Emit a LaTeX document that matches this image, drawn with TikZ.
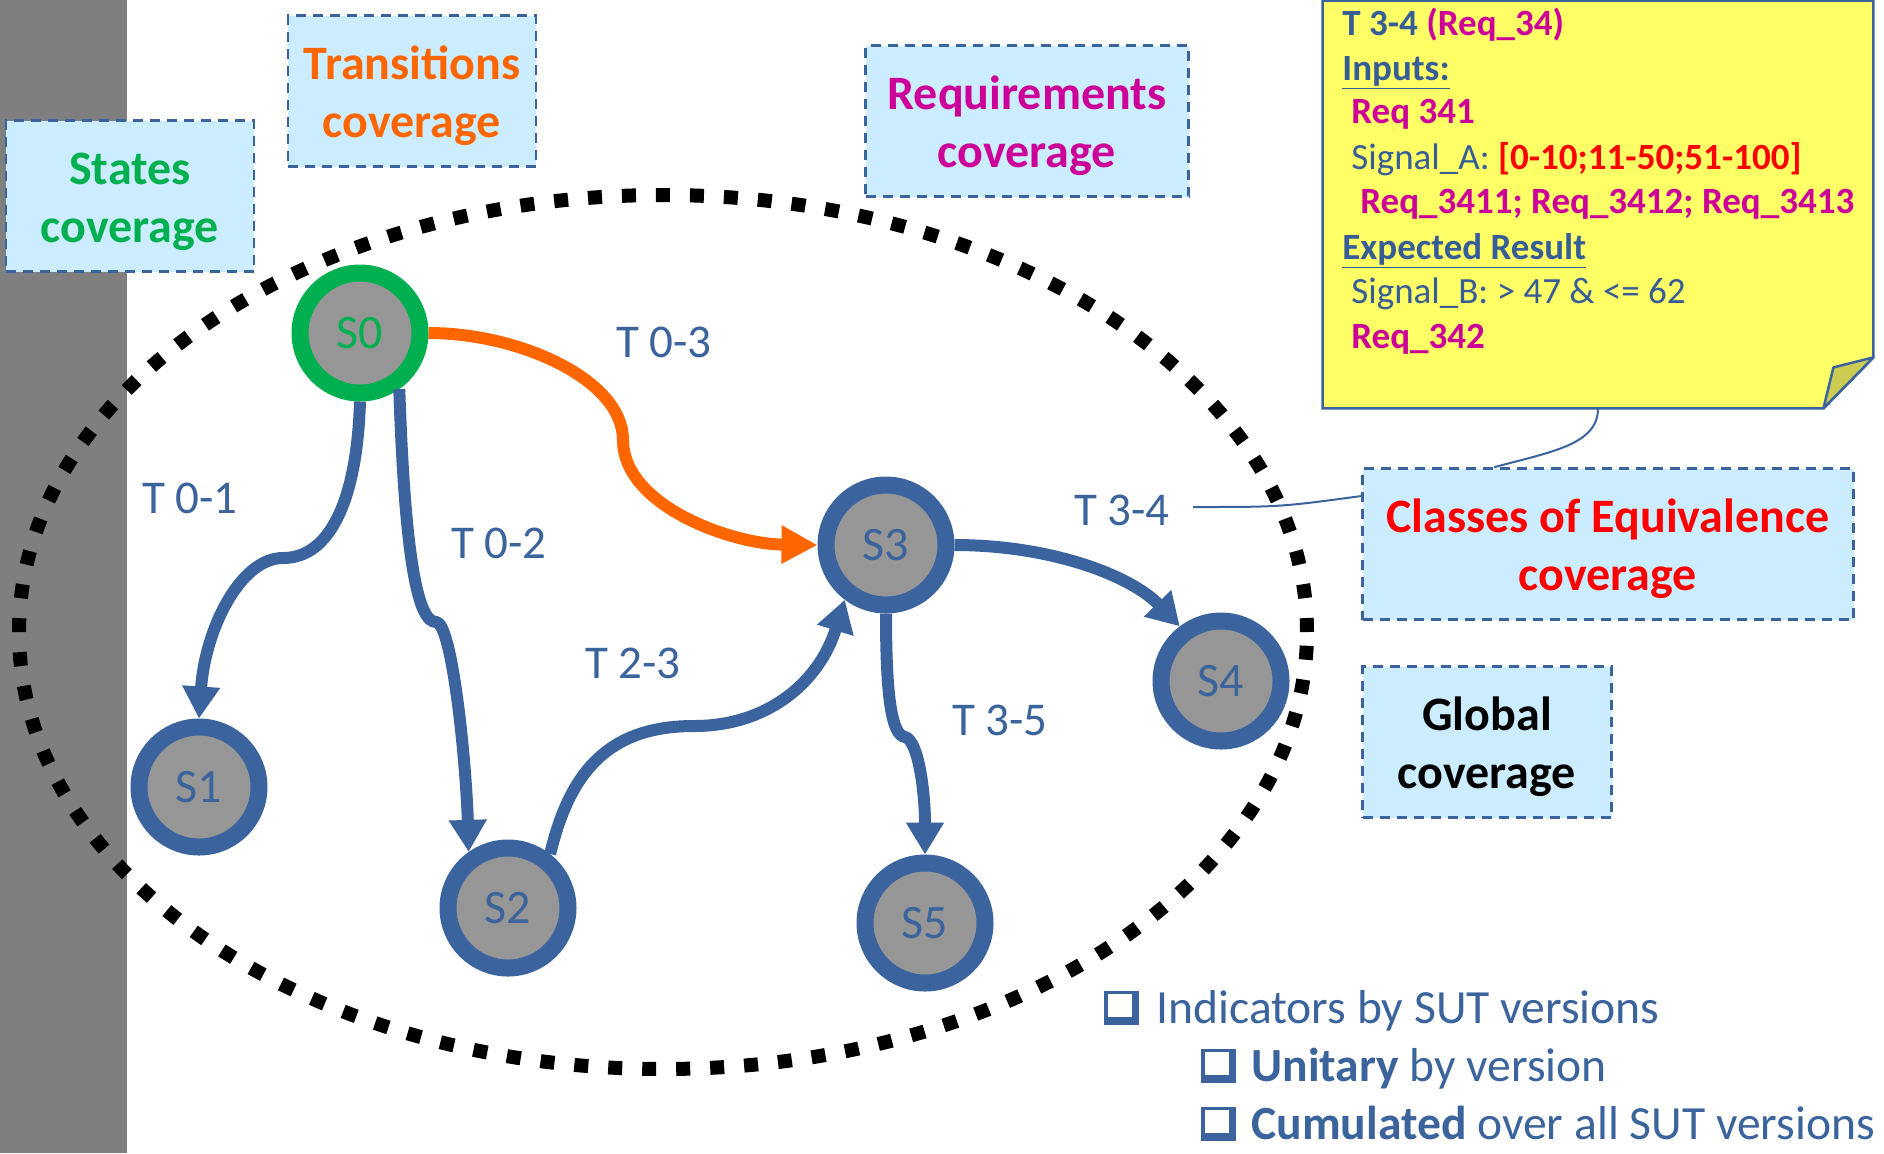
\documentclass[tikz,border=0pt]{standalone}
\usepackage{fontspec}
\setmainfont{Carlito}
\usetikzlibrary{arrows.meta,calc}

\definecolor{edgeblue}{HTML}{3B649F}
\definecolor{txtblue}{HTML}{3B639C}
\definecolor{notetxt}{HTML}{375D96}
\definecolor{stgreen}{HTML}{00B050}
\definecolor{trorange}{HTML}{FF6600}
\definecolor{reqmag}{HTML}{CC0099}
\definecolor{eqred}{HTML}{FF0000}
\definecolor{boxfill}{HTML}{CCECFF}
\definecolor{notefill}{HTML}{FFFF66}
\definecolor{foldfill}{HTML}{CCCC52}
\definecolor{nodegray}{HTML}{969696}
\definecolor{bargray}{HTML}{7F7F7F}

% extra height on the first line of a box title, to centre the two lines
\newcommand\boxstrut{\rule{0pt}{21.5pt}}

\begin{document}
\begin{tikzpicture}[x=0.5pt,y=-0.5pt,
  state/.style={circle, minimum size=60pt, inner sep=0pt, line width=8.5pt,
    draw=edgeblue, fill=nodegray, text=txtblue, font=\fontsize{24}{28}\selectfont},
  cover/.style={draw=edgeblue, dash pattern=on 5pt off 3.5pt, line width=1.3pt,
    fill=boxfill, align=center, inner sep=0pt, minimum height=75.5pt,
    font=\fontsize{24}{29}\selectfont\bfseries},
  trans/.style={draw=edgeblue, line width=6pt, -{Triangle[length=16pt,width=18pt]}},
  tlabel/.style={text=txtblue, font=\fontsize{23.5}{28}\selectfont, inner sep=0pt},
  callout/.style={draw=edgeblue, line width=1pt},
  noteline/.style={anchor=base west, inner sep=0pt, text=notetxt,
    font=\fontsize{18.5}{22}\selectfont},
  listline/.style={anchor=base west, inner sep=0pt, text=txtblue,
    font=\fontsize{23.8}{28}\selectfont},
  pics/chkbox/.style={code={
    \fill[edgeblue] (0,0) rectangle (35,34);
    \fill[white] (4,3) rectangle (28,26);
  }}
]
% canvas and left strip
\fill[white] (0,0) rectangle (1884,1153);
\useasboundingbox (0,0) rectangle (1884,1153);
\fill[bargray] (0,0) rectangle (127,1153);

% dotted boundary of the state machine
\draw[black, line width=7pt, dash pattern=on 7pt off 10pt]
  (663,632) ellipse [x radius=322pt, y radius=218.5pt];

% coverage boxes
\node[cover, minimum width=124pt, text=stgreen] (states) at (130,196) {\boxstrut States\\coverage};
\node[cover, minimum width=124pt, text=trorange] (transcov) at (412,91) {\boxstrut Transitions\\coverage};
\node[cover, minimum width=161.5pt, text=reqmag] (reqcov) at (1027,121) {\boxstrut Requirements\\coverage};
\node[cover, minimum width=245.5pt, text=eqred] (classes) at (1608,544) {\boxstrut Classes of Equivalence\\coverage};
\node[cover, minimum width=124.5pt, text=black] (global) at (1487,742) {\boxstrut Global\\coverage};

% sticky note
\node[minimum width=275pt, minimum height=203.5pt, inner sep=0pt] (note) at (1598,204.5) {};
\filldraw[fill=notefill, draw=edgeblue, line width=1.25pt]
  (note.north west) -- (note.north east) -- ($(note.south east)+(0,-51)$)
  -- ($(note.south east)+(-50,0)$) -- (note.south west) -- cycle;
\filldraw[fill=foldfill, draw=edgeblue, line width=1.25pt, line join=round]
  ($(note.south east)+(-50,0)$) -- ($(note.south east)+(-40,-41)$)
  -- ($(note.south east)+(0,-51)$) -- cycle;
\node[noteline] (n1) at (1342,35) {\textbf{T 3-4 \textcolor{reqmag}{(Req\_34)}}};
\node[noteline] (n2) at (1342,80) {\textbf{\underline{Inputs:}}};
\node[noteline, text=reqmag] (n3) at (1351,123) {\textbf{Req 341}};
\node[noteline] (n4) at (1351,169) {Signal\_A: \textcolor{eqred}{\textbf{[0-10;11-50;51-100]}}};
\node[noteline, text=reqmag] (n5) at (1360,213) {\textbf{Req\_3411; Req\_3412; Req\_3413}};
\node[noteline] (n6) at (1342,259) {\textbf{\underline{Expected Result}}};
\node[noteline] (n7) at (1351,303) {Signal\_B: > 47 \& <= 62};
\node[noteline, text=reqmag] (n8) at (1351,348) {\textbf{Req\_342}};

% states
\node[state, draw=stgreen, text=stgreen] (s0) at (360,333) {S0};
\node[state] (s1) at (199,787) {S1};
\node[state] (s2) at (508,908) {S2};
\node[state] (s3) at (886,545) {S3};
\node[state] (s4) at (1221,681) {S4};
\node[state] (s5) at (925,923) {S5};

% transitions
\draw[trans] (s0.-90) .. controls (357,500) and (330,558) .. (283,558)
  .. controls (240,558) and (205,630) .. (s1.north);
\draw[trans] (s0.-55) .. controls (405,560) and (418,622) .. (436,622)
  .. controls (452,622) and (466,760) .. (s2.125);
\draw[trans, draw=trorange, -{Triangle[length=18pt,width=18pt]}]
  (s0.east) .. controls (520,333) and (623,380) .. (623,440)
  .. controls (623,505) and (730,544) .. (s3.west);
\draw[trans] (s2.52) .. controls (570,770) and (610,726) .. (694,726)
  .. controls (770,726) and (820,680) .. (s3.-127);
\draw[trans] (s3.east) .. controls (1050,545) and (1130,575) .. (s4.127);
\draw[trans] (s3.south) .. controls (886,700) and (892,735) .. (905,737)
  .. controls (918,740) and (925,790) .. (s5.north);

% transition labels
\node[tlabel] (l01) at (190,498) {T 0-1};
\node[tlabel] (l02) at (499,543) {T 0-2};
\node[tlabel] (l03) at (664,342) {T 0-3};
\node[tlabel] (l23) at (633,663) {T 2-3};
\node[tlabel] (l34) at (1122,510) {T 3-4};
\node[tlabel] (l35) at (1000,720) {T 3-5};

% callout connectors
\coordinate (c34) at (1193,507);
\draw[callout] (c34) .. controls (1280,507) .. (classes.169);
\draw[callout] (note.south) .. controls (1598,445) and (1550,452) .. (classes.146);

% indicator list
\node[listline] (ind) at (1156,1023) {Indicators by SUT versions};
\node[listline] (uni) at (1251,1081) {\textbf{Unitary} by version};
\node[listline] (cum) at (1251,1139) {\textbf{Cumulated} over all SUT versions};
\pic at ($(ind.base west)+(-52,-32)$) {chkbox};
\pic at ($(uni.base west)+(-50,-32)$) {chkbox};
\pic at ($(cum.base west)+(-50,-32)$) {chkbox};
\end{tikzpicture}
\end{document}
